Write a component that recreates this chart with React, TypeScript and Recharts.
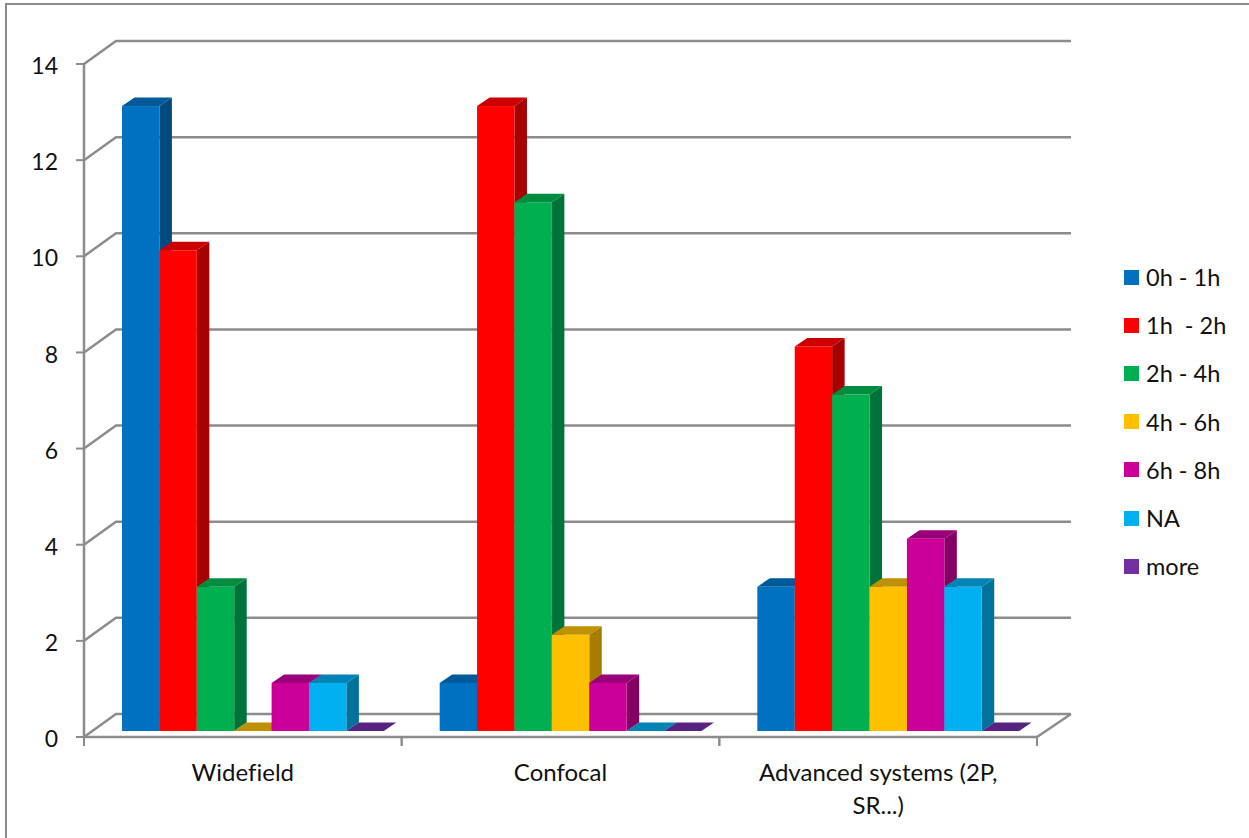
import { Bar, BarChart, CartesianGrid, Legend, XAxis, YAxis } from 'recharts';

const categories = ['Widefield', 'Confocal', 'Advanced systems (2P,\nSR...)'];
const seriesNames = ['0h - 1h', '1h  - 2h', '2h - 4h', '4h - 6h', '6h - 8h', 'NA', 'more'];
const yTicks = [0, 2, 4, 6, 8, 10, 12, 14];

const hours0to1 = [13, 1, 3];
const hours1to2 = [10, 13, 8];
const hours2to4 = [3, 11, 7];
const hours4to6 = [0, 2, 3];
const hours6to8 = [1, 1, 4];
const notAvailable = [1, 0, 3];
const more = [0, 0, 0];

const seriesValues = [hours0to1, hours1to2, hours2to4, hours4to6, hours6to8, notAvailable, more];

const frontColors = ['#0070C0', '#FF0000', '#00B050', '#FFC000', '#CC0099', '#00B0F0', '#7030A0'];
const topColors = ['#005A9A', '#CC0000', '#008D40', '#BF9000', '#99007A', '#0084B5', '#562480'];
const sideColors = ['#004A80', '#A60000', '#00733A', '#A67D00', '#850063', '#00729C', '#49206B'];

const data = categories.map((category, i) => {
  const row: Record<string, string | number> = { category };
  seriesValues.forEach((values, s) => {
    row[`s${s}`] = values[i];
  });
  return row;
});

const FONT = 'Lato, sans-serif';
const LINE = '#8C8C8C';
const PLOT_BOTTOM = 737;

// fake 3D: the back wall sits up and to the right of the axes
const WALL_DX = 32;
const WALL_DY = -23;
const WALL_RIGHT = 34;
// bars stand a little way in from the front of the floor
const BAR_DX = 10;
const BAR_DY = -6;
const DEPTH_X = 12.5;
const DEPTH_Y = -8.5;

function GridLine(props: any) {
  const { x1, x2, y1, index } = props;
  return (
    <g key={`grid-${index}`}>
      <polyline
        points={`${x1},${y1} ${x1 + WALL_DX},${y1 + WALL_DY} ${x2 + WALL_RIGHT},${y1 + WALL_DY}`}
        fill="none"
        stroke={LINE}
        strokeWidth={2.5}
      />
      {Math.round(y1) === PLOT_BOTTOM && (
        <line x1={x2} y1={y1} x2={x2 + WALL_RIGHT} y2={y1 + WALL_DY} stroke={LINE} strokeWidth={2.5} />
      )}
    </g>
  );
}

function Box3D(props: any) {
  const { x, y, width, height, seriesIndex } = props;
  const left = x + BAR_DX;
  const right = left + width;
  const top = y + BAR_DY;
  const bottom = top + height;
  return (
    <g>
      <polygon
        points={`${right},${top} ${right + DEPTH_X},${top + DEPTH_Y} ${right + DEPTH_X},${bottom + DEPTH_Y} ${right},${bottom}`}
        fill={sideColors[seriesIndex]}
      />
      <polygon
        points={`${left},${top} ${left + DEPTH_X},${top + DEPTH_Y} ${right + DEPTH_X},${top + DEPTH_Y} ${right},${top}`}
        fill={topColors[seriesIndex]}
      />
      <rect x={left} y={top} width={width} height={height} fill={frontColors[seriesIndex]} />
    </g>
  );
}

// the reference has its tick marks between the categories, not under them
function CategoryTick(props: any) {
  const { x, width, payload } = props;
  const half = width / categories.length / 2;
  const lines = String(payload.value).split('\n');
  return (
    <g>
      {[x - half, x + half].map((tickX) => (
        <line key={tickX} x1={tickX} y1={PLOT_BOTTOM} x2={tickX} y2={PLOT_BOTTOM + 9} stroke={LINE} strokeWidth={2} />
      ))}
      <text
        textAnchor="middle"
        fill="#111"
        style={{ fontFamily: FONT, fontSize: 24, fontVariantLigatures: 'none' }}
      >
        {lines.map((line, i) => (
          <tspan key={line} x={x} y={PLOT_BOTTOM + 44 + i * 33}>
            {line}
          </tspan>
        ))}
      </text>
    </g>
  );
}

function LegendList(props: any) {
  return (
    <div style={{ fontFamily: FONT, fontSize: 23.5, color: '#111' }}>
      {props.payload.map((item: any) => (
        <div key={item.value} style={{ display: 'flex', alignItems: 'center', height: 48.2 }}>
          <span style={{ width: 15, height: 15, background: item.color, marginRight: 7 }} />
          <span style={{ whiteSpace: 'pre' }}>{item.value}</span>
        </div>
      ))}
    </div>
  );
}

export default function App() {
  return (
    <div style={{ position: 'absolute', left: 0, top: 0, width: 1249, height: 838, background: '#fff', overflow: 'hidden' }}>
      <div
        style={{
          position: 'absolute',
          left: 5,
          top: 3,
          width: 1300,
          height: 900,
          borderLeft: '2px solid #8C8C8C',
          borderTop: '2px solid #8C8C8C',
        }}
      />
      <BarChart
        width={1249}
        height={838}
        data={data}
        barGap={0}
        barSize={37.4}
        margin={{ top: 64, right: 212, bottom: 41, left: 24 }}
        style={{ position: 'absolute', left: 0, top: 0 }}
      >
        <CartesianGrid vertical={false} horizontal={GridLine} />
        <XAxis
          dataKey="category"
          height={60}
          interval={0}
          tick={CategoryTick}
          tickLine={false}
          axisLine={{ stroke: LINE, strokeWidth: 2.5 }}
        />
        <YAxis
          width={60}
          domain={[0, 14]}
          ticks={yTicks}
          interval={0}
          tickSize={8}
          tickMargin={18}
          tick={{ fontFamily: FONT, fontSize: 23, fill: '#111', dy: 2 }}
          axisLine={{ stroke: LINE, strokeWidth: 2.5 }}
          tickLine={{ stroke: LINE, strokeWidth: 2 }}
        />
        <Legend
          layout="vertical"
          align="center"
          verticalAlign="middle"
          content={LegendList}
          wrapperStyle={{ left: 1124, top: 253, width: 125 }}
        />
        {seriesNames.map((name, s) => (
          <Bar
            key={name}
            dataKey={`s${s}`}
            name={name}
            fill={frontColors[s]}
            isAnimationActive={false}
            shape={(props: any) => <Box3D {...props} seriesIndex={s} />}
          />
        ))}
      </BarChart>
    </div>
  );
}
